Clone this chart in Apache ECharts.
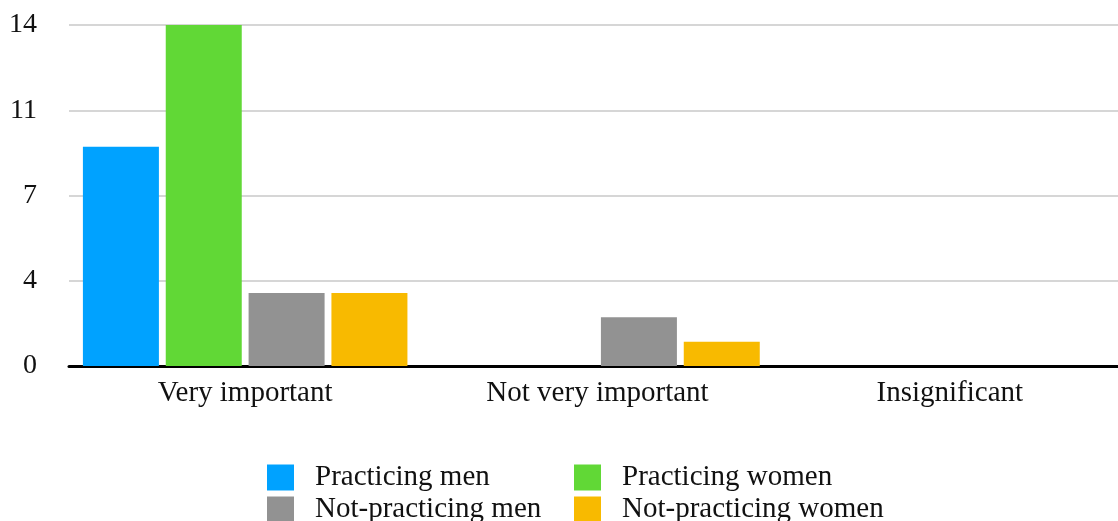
<!DOCTYPE html>
<html>
<head>
<meta charset="utf-8">
<script src="https://cdn.jsdelivr.net/npm/echarts@6/dist/echarts.min.js"></script>
<style>
  html, body { margin: 0; padding: 0; background: #fff; }
  #chart { width: 1118px; height: 521px; }
</style>
</head>
<body>
<div id="chart"></div>
<script>
// Importance ratings by group
const categories = ['Very important', 'Not very important', 'Insignificant'];
const seriesNames = ['Practicing men', 'Practicing women', 'Not-practicing men', 'Not-practicing women'];
const practicingMen = [9, 0, 0];
const practicingWomen = [14, 0, 0];
const notPracticingMen = [3, 2, 0];
const notPracticingWomen = [3, 1, 0];
const colors = ['#00A2FF', '#61D836', '#929292', '#F8BA00'];

const seriesValues = [practicingMen, practicingWomen, notPracticingMen, notPracticingWomen];
const font = 'Liberation Serif';

const chart = echarts.init(document.getElementById('chart'), null, { renderer: 'canvas' });

// Legend laid out as a 2x2 block: one legend component per entry
const legendPos = [
  { left: 267, top: 463 },
  { left: 574, top: 463 },
  { left: 267, top: 495 },
  { left: 574, top: 495 }
];
const legends = seriesNames.map((name, i) => ({
  data: [name],
  left: legendPos[i].left,
  top: legendPos[i].top,
  padding: 0,
  itemWidth: 27,
  itemHeight: 26,
  icon: 'rect',
  textStyle: { fontFamily: font, fontSize: 29, color: '#111', padding: [0, 0, 0, 16] }
}));

chart.setOption({
  animation: false,
  color: colors,
  grid: {
    left: 69, width: 1057, top: 25, bottom: 155,
    containLabel: false, outerBoundsMode: 'none'
  },
  legend: legends,
  xAxis: {
    type: 'category',
    data: categories,
    axisLine: { show: true, lineStyle: { color: '#000', width: 3 } },
    axisTick: { show: false },
    axisLabel: { fontFamily: font, fontSize: 29, color: '#111', margin: 13 }
  },
  yAxis: {
    type: 'value',
    min: 0, max: 14, interval: 3.5,
    axisLine: { show: false },
    axisTick: { show: false },
    splitLine: { lineStyle: { color: '#c8c8c8', width: 1.5 } },
    axisLabel: {
      fontFamily: font, fontSize: 28, color: '#111', margin: 32,
      formatter: v => String(Math.round(v))
    }
  },
  series: seriesNames.map((name, i) => ({
    name,
    type: 'bar',
    data: seriesValues[i],
    barWidth: 76,
    barGap: '9%',
    itemStyle: { color: colors[i] }
  }))
});
</script>
</body>
</html>
